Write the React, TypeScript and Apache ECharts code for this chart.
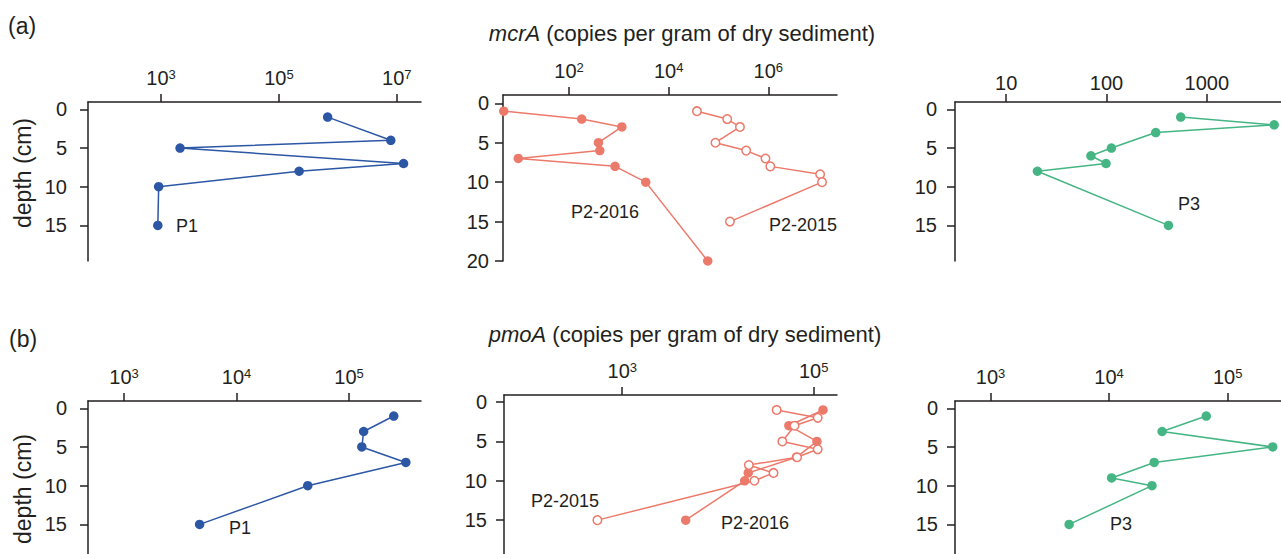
import React, { useEffect, useRef } from "react";
import * as echarts from "echarts";

// ---------------- data (copies per gram of dry sediment) ----------------
// (a) mcrA
const depthA_P1 = [1, 4, 5, 7, 8, 10, 15];
const mcrA_P1 = [6.7e5, 7.9e6, 2.1e3, 1.3e7, 2.2e5, 910, 880];
const depthA_P2_2016 = [1, 2, 3, 5, 6, 7, 8, 10, 20];
const mcrA_P2_2016 = [4.9, 180, 1150, 390, 415, 9.6, 840, 3470, 6.1e4];
const depthA_P2_2015 = [1, 2, 3, 5, 6, 7, 8, 9, 10, 15];
const mcrA_P2_2015 = [3.7e4, 1.5e5, 2.7e5, 8.7e4, 3.6e5, 8.8e5, 1.1e6, 1.1e7, 1.2e7, 1.7e5];
const depthA_P3 = [1, 2, 3, 5, 6, 7, 8, 15];
const mcrA_P3 = [550, 4700, 310, 112, 70, 99, 20.5, 415];
// (b) pmoA
const depthB_P1 = [1, 3, 5, 7, 10, 15];
const pmoA_P1 = [2.5e5, 1.35e5, 1.3e5, 3.2e5, 4.3e4, 4.7e3];
const depthB_P2_2016 = [1, 3, 5, 7, 9, 10, 15];
const pmoA_P2_2016 = [1.25e5, 5.5e4, 1.08e5, 6.6e4, 2.07e4, 1.9e4, 4.6e3];
const depthB_P2_2015 = [1, 2, 3, 5, 6, 7, 8, 9, 10, 15];
const pmoA_P2_2015 = [4.1e4, 1.1e5, 6.3e4, 4.7e4, 1.1e5, 6.7e4, 2.1e4, 3.8e4, 2.4e4, 550];
const depthB_P3 = [1, 3, 5, 7, 9, 10, 15];
const pmoA_P3 = [6.6e4, 2.8e4, 2.4e5, 2.4e4, 1.05e4, 2.3e4, 4.6e3];

// tick exponents (log10) per panel
const ticksA_P1 = [3, 5, 7];
const ticksA_P2 = [2, 4, 6];
const ticksA_P3 = [1, 2, 3];
const ticksB_P1 = [3, 4, 5];
const ticksB_P2 = [3, 5];
const ticksB_P3 = [3, 4, 5];
const depthTicks = [0, 5, 10, 15];
const depthTicksP2 = [0, 5, 10, 15, 20];

const titleA = "mcrA";
const titleB = "pmoA";
const unitText = " (copies per gram of dry sediment)";

// ---------------- styles / layout ----------------
const FONT = '"Liberation Sans", Arial, Helvetica, sans-serif';
const INK = "#231f20";
const BLUE = "#2c57a5";
const RED = "#ec7a6b";
const GREEN = "#45b584";

type Panel = {
  left: number; top: number; width: number; height: number;
  xmin: number; xmax: number; ymin: number; ymax: number;
  xticks: number[]; yticks: number[]; plain?: boolean; yMargin: number;
};

const panels: Panel[] = [
  { left: 88, top: 102, width: 333, height: 159, xmin: 1.76, xmax: 7.41, ymin: -0.95, ymax: 19.6, xticks: ticksA_P1, yticks: depthTicks, yMargin: 21 },
  { left: 503, top: 95, width: 334, height: 166, xmin: 0.675, xmax: 7.38, ymin: -1.05, ymax: 20, xticks: ticksA_P2, yticks: depthTicksP2, yMargin: 14 },
  { left: 955, top: 102, width: 326, height: 159, xmin: 0.49, xmax: 3.74, ymin: -0.95, ymax: 19.6, xticks: ticksA_P3, yticks: depthTicks, plain: true, yMargin: 18 },
  { left: 88, top: 401, width: 333, height: 159, xmin: 2.68, xmax: 5.64, ymin: -0.94, ymax: 19.6, xticks: ticksB_P1, yticks: depthTicks, yMargin: 21 },
  { left: 504, top: 395, width: 333, height: 164.5, xmin: 1.765, xmax: 5.243, ymin: -0.9, ymax: 20, xticks: ticksB_P2, yticks: depthTicks, yMargin: 17 },
  { left: 955, top: 401, width: 326, height: 159, xmin: 2.7, xmax: 5.45, ymin: -0.94, ymax: 19.6, xticks: ticksB_P3, yticks: depthTicks, yMargin: 17 },
];

const toPts = (vals: number[], depths: number[]) =>
  vals.map((v, k) => [Math.log10(v), depths[k]]);

function lineSeries(idx: number, vals: number[], depths: number[], color: string, open = false) {
  return {
    type: "line",
    xAxisIndex: idx,
    yAxisIndex: idx,
    data: toPts(vals, depths),
    symbol: "circle",
    symbolSize: open ? 8.5 : 9.5,
    showSymbol: true,
    clip: false,
    lineStyle: { color, width: 1.5 },
    itemStyle: open
      ? { color: "#ffffff", borderColor: color, borderWidth: 1.5 }
      : { color, borderColor: color, borderWidth: 0 },
    emphasis: { disabled: true },
    z: open ? 3 : 2,
  };
}

function txt(text: string, x: number, y: number, fontSize: number, extra: any = {}) {
  return {
    type: "text",
    x,
    y,
    silent: true,
    ...extra,
    style: {
      text,
      fontSize,
      fontFamily: FONT,
      fill: INK,
      align: "center",
      verticalAlign: "middle",
      ...(extra.style || {}),
    },
  };
}

export default function App() {
  const ref = useRef<HTMLDivElement>(null);

  useEffect(() => {
    if (!ref.current) return;
    const chart = echarts.init(ref.current, undefined, { renderer: "svg" });

    const axisLineStyle = { color: INK, width: 1.5 };

    const option: any = {
      animation: false,
      backgroundColor: "#ffffff",
      grid: panels.map((p) => ({ left: p.left, top: p.top, width: p.width, height: p.height })),
      xAxis: panels.map((p, i) => ({
        type: "value",
        gridIndex: i,
        position: "top",
        min: p.xmin,
        max: p.xmax,
        splitLine: { show: false },
        axisLine: { show: true, onZero: false, lineStyle: axisLineStyle },
        axisTick: { show: true, length: 8, customValues: p.xticks, lineStyle: axisLineStyle },
        axisLabel: {
          customValues: p.xticks,
          margin: p.plain ? 9 : 14,
          fontSize: 20,
          fontFamily: FONT,
          color: INK,
          formatter: p.plain
            ? (v: number) => String(Math.round(Math.pow(10, v)))
            : (v: number) => `10{s|${Math.round(v)}}`,
          rich: {
            s: { fontSize: 13, fontFamily: FONT, color: INK, verticalAlign: "top" },
          },
        },
      })),
      yAxis: panels.map((p, i) => ({
        type: "value",
        gridIndex: i,
        position: "left",
        inverse: true,
        min: p.ymin,
        max: p.ymax,
        splitLine: { show: false },
        axisLine: { show: true, onZero: false, lineStyle: axisLineStyle },
        axisTick: { show: true, length: 8, customValues: p.yticks, lineStyle: axisLineStyle },
        axisLabel: {
          customValues: p.yticks,
          margin: p.yMargin,
          fontSize: 20,
          fontFamily: FONT,
          color: INK,
        },
      })),
      series: [
        lineSeries(0, mcrA_P1, depthA_P1, BLUE),
        lineSeries(1, mcrA_P2_2016, depthA_P2_2016, RED),
        lineSeries(1, mcrA_P2_2015, depthA_P2_2015, RED, true),
        lineSeries(2, mcrA_P3, depthA_P3, GREEN),
        lineSeries(3, pmoA_P1, depthB_P1, BLUE),
        lineSeries(4, pmoA_P2_2016, depthB_P2_2016, RED),
        lineSeries(4, pmoA_P2_2015, depthB_P2_2015, RED, true),
        lineSeries(5, pmoA_P3, depthB_P3, GREEN),
      ],
      graphic: [
        txt("(a)", 8, 26, 23, { style: { align: "left" } }),
        txt("(b)", 9, 339, 23, { style: { align: "left" } }),
        txt(`{i|${titleA}}${unitText}`, 682, 33, 22, {
          style: { rich: { i: { fontStyle: "italic", fontSize: 22, fontFamily: FONT, fill: INK } } },
        }),
        txt(`{i|${titleB}}${unitText}`, 685, 334, 22, {
          style: { rich: { i: { fontStyle: "italic", fontSize: 22, fontFamily: FONT, fill: INK } } },
        }),
        txt("depth (cm)", 22.5, 173, 23, { rotation: Math.PI / 2 }),
        txt("depth (cm)", 22.5, 489, 23, { rotation: Math.PI / 2 }),
        txt("P1", 187, 226, 18),
        txt("P2-2016", 605, 212, 18),
        txt("P2-2015", 803, 225, 18),
        txt("P3", 1189, 204, 18),
        txt("P1", 240, 528, 18),
        txt("P2-2015", 565, 501, 18),
        txt("P2-2016", 755, 523, 18),
        txt("P3", 1121, 524, 18),
      ],
    };

    chart.setOption(option);
    return () => chart.dispose();
  }, []);

  return (
    <div
      style={{
        position: "absolute",
        left: 0,
        top: 0,
        width: 1281,
        height: 554,
        overflow: "hidden",
        background: "#fff",
      }}
    >
      <div ref={ref} style={{ width: 1281, height: 575 }} />
    </div>
  );
}
